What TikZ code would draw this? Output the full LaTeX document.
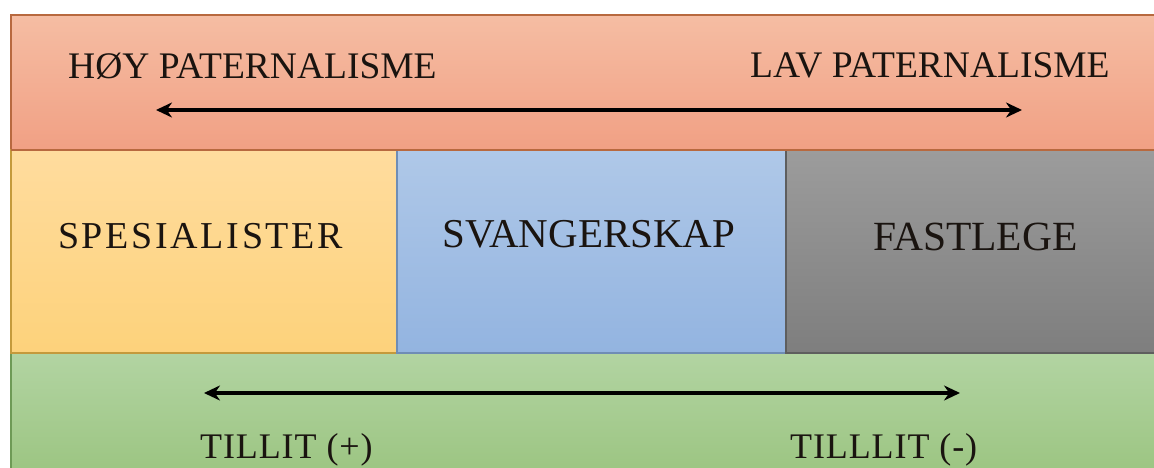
\documentclass[tikz,border=0pt]{standalone}
\usepackage{fontspec}
\setmainfont{Liberation Serif}
\usetikzlibrary{arrows.meta}

\definecolor{salmonTop}{HTML}{F5BDA3}
\definecolor{salmonBot}{HTML}{F1A084}
\definecolor{salmonEdge}{HTML}{B8693F}
\definecolor{yellowTop}{HTML}{FFDC9E}
\definecolor{yellowBot}{HTML}{FDD27B}
\definecolor{yellowEdge}{HTML}{C49A3C}
\definecolor{blueTop}{HTML}{AFC8E8}
\definecolor{blueBot}{HTML}{93B4E0}
\definecolor{blueEdge}{HTML}{6F8DB5}
\definecolor{grayTop}{HTML}{9C9C9C}
\definecolor{grayBot}{HTML}{7E7E7E}
\definecolor{grayEdge}{HTML}{5E5E5E}
\definecolor{greenTop}{HTML}{B2D4A2}
\definecolor{greenBot}{HTML}{9CC582}
\definecolor{greenEdge}{HTML}{6E9A56}
\definecolor{inkText}{HTML}{1A1410}

\tikzset{
  label/.style={inner sep=0pt, anchor=base west, text=inkText},
  scaleArrow/.style={line width=4pt, {Stealth[length=16pt,width=15pt]}-{Stealth[length=16pt,width=15pt]}}
}

\begin{document}
\begin{tikzpicture}[x=1pt, y=-1pt]
  \useasboundingbox (0,0) rectangle (1154,468);
  \begin{scope}
    \clip (0,0) rectangle (1154,468);
    % coloured bands and boxes
    \filldraw[top color=salmonTop, bottom color=salmonBot, draw=salmonEdge, line width=1.4pt]
      (11,15) rectangle (1158,150);
    \filldraw[top color=greenTop, bottom color=greenBot, draw=greenEdge, line width=1.2pt]
      (11,353) rectangle (1158,472);
    \filldraw[top color=yellowTop, bottom color=yellowBot, draw=yellowEdge, line width=1.2pt]
      (11,150) rectangle (397,353);
    \filldraw[top color=blueTop, bottom color=blueBot, draw=blueEdge, line width=1.2pt]
      (397,150) rectangle (786,353);
    \filldraw[top color=grayTop, bottom color=grayBot, draw=grayEdge, line width=1.2pt]
      (786,150) rectangle (1158,353);
    \draw[salmonEdge, line width=2pt] (11,150) -- (1158,150);
  \end{scope}

  % labels
  \node[label, font=\fontsize{37.5}{37.5}\selectfont] (hoy) at (68,79) {HØY PATERNALISME};
  \node[label, font=\fontsize{37.5}{37.5}\selectfont] (lav) at (750,78) {LAV PATERNALISME};
  \node[label, font=\fontsize{38}{38}\selectfont\addfontfeature{LetterSpace=7}] (spes) at (58,248) {SPESIALISTER};
  \node[label, font=\fontsize{41}{41}\selectfont] (svang) at (442,247) {SVANGERSKAP};
  \node[label, font=\fontsize{41.5}{41.5}\selectfont] (fast) at (873,250) {FASTLEGE};
  \node[label, font=\fontsize{36}{36}\selectfont\addfontfeature{LetterSpace=2.5}] (tplus) at (200,458) {TILLIT (+)};
  \node[label, font=\fontsize{36}{36}\selectfont\addfontfeature{LetterSpace=2.5}] (tminus) at (790,458) {TILLLIT (-)};

  % scale arrows
  \coordinate (pl) at (156,110);
  \coordinate (pr) at (1022,110);
  \coordinate (tl) at (204,393);
  \coordinate (tr) at (960,393);
  \draw[scaleArrow] (pl) -- (pr);
  \draw[scaleArrow] (tl) -- (tr);
\end{tikzpicture}
\end{document}
